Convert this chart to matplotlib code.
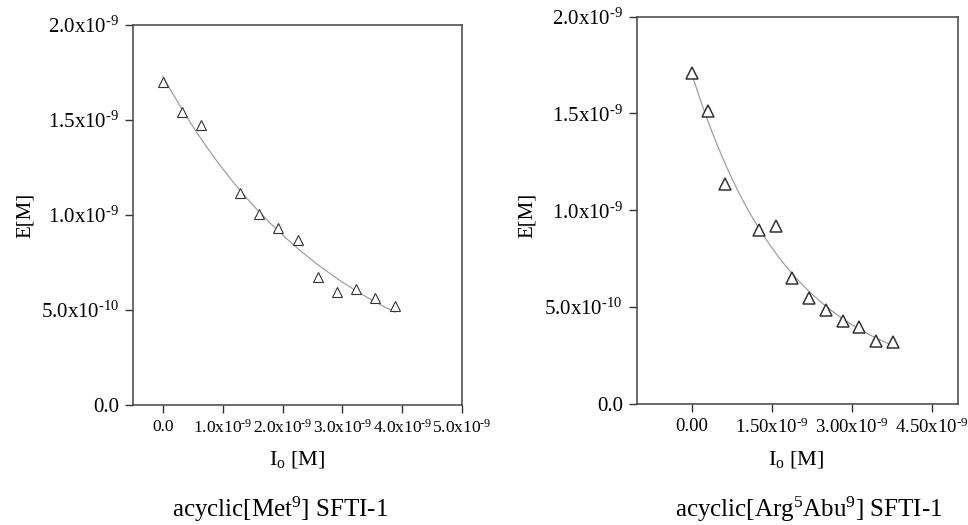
import numpy as np
import matplotlib
matplotlib.use("Agg")
import matplotlib.pyplot as plt

# DATA (concentrations in units of 1e-9 M) ####################################

met_io = [0.0, 0.32, 0.64, 1.29, 1.61, 1.93, 2.26, 2.59, 2.91, 3.23, 3.55, 3.88]
met_e = [1.70, 1.544, 1.474, 1.117, 1.005, 0.933, 0.867, 0.672, 0.593, 0.611, 0.565, 0.521]

abu_io = [0.0, 0.31, 0.625, 1.26, 1.575, 1.875, 2.20, 2.52, 2.83, 3.14, 3.45, 3.78]
abu_e = [1.708, 1.513, 1.138, 0.897, 0.919, 0.649, 0.549, 0.486, 0.429, 0.399, 0.325, 0.319]

y_ticks = [0.0, 0.5, 1.0, 1.5, 2.0]
y_labels = ["0.0", r"5.0x10$^{\text{-10}}$", r"1.0x10$^{\text{-9}}$",
            r"1.5x10$^{\text{-9}}$", r"2.0x10$^{\text{-9}}$"]

met_xticks = [0.0, 1.0, 2.0, 3.0, 4.0, 5.0]
met_xlabels = ["0.0", r"1.0x10$^{\text{-9}}$", r"2.0x10$^{\text{-9}}$",
               r"3.0x10$^{\text{-9}}$", r"4.0x10$^{\text{-9}}$", r"5.0x10$^{\text{-9}}$"]

abu_xticks = [0.0, 1.5, 3.0, 4.5]
abu_xlabels = ["0.00", r"1.50x10$^{\text{-9}}$", r"3.00x10$^{\text{-9}}$",
               r"4.50x10$^{\text{-9}}$"]

titles = [r"acyclic[Met$^{\mathrm{9}}$] SFTI-1",
          r"acyclic[Arg$^{\mathrm{5}}$Abu$^{\mathrm{9}}$] SFTI-1"]

# STYLE #######################################################################

plt.rcParams["font.family"] = "Liberation Serif"
plt.rcParams["mathtext.fontset"] = "custom"
plt.rcParams["mathtext.rm"] = "Liberation Serif"
plt.rcParams["mathtext.it"] = "Liberation Serif:italic"


def exp_fit(xd, yd):
    # y = c + a*exp(-k*x): scan k, solve a and c by least squares
    xd, yd = np.asarray(xd), np.asarray(yd)
    best = None
    for k in np.linspace(0.05, 2.0, 400):
        A = np.column_stack([np.exp(-k * xd), np.ones_like(xd)])
        sol, res, _, _ = np.linalg.lstsq(A, yd, rcond=None)
        err = np.sum((A @ sol - yd) ** 2)
        if best is None or err < best[0]:
            best = (err, k, sol)
    _, k, (a, c) = best
    return lambda t: c + a * np.exp(-k * t)


fig = plt.figure(figsize=(9.68, 5.25), dpi=100)

panels = [
    dict(rect=[0.1374, 0.2286, 0.340, 0.724], x=met_io, y=met_e, xlim=(-0.5, 5.0),
         xticks=met_xticks, xlabels=met_xlabels, xfs=12.5, ylab_x=0.026, title=titles[0],
         title_x=0.289, xlab_x=0.307, mew=0.8, ms=7),
    dict(rect=[0.6577, 0.2305, 0.3322, 0.738], x=abu_io, y=abu_e, xlim=(-1.03, 5.0),
         xticks=abu_xticks, xlabels=abu_xlabels, xfs=13.5, ylab_x=0.545, title=titles[1],
         title_x=0.835, xlab_x=0.823, mew=1.1, ms=8.5),
]

for p in panels:
    ax = fig.add_axes(p["rect"])
    x = np.array(p["x"]) * 1e-9
    y = np.array(p["y"]) * 1e-9

    # fitted decay curve through the points
    f = exp_fit(p["x"], p["y"])
    xs = np.linspace(min(p["x"]), max(p["x"]), 200)
    ax.plot(xs * 1e-9, f(xs) * 1e-9, color="#a0a0a0", lw=0.9, zorder=1)

    ax.plot(x, y, linestyle="none", marker="^", markersize=p["ms"], markerfacecolor="white",
            markeredgecolor="#333333", markeredgewidth=p["mew"], zorder=2)

    ax.set_xlim(p["xlim"][0] * 1e-9, p["xlim"][1] * 1e-9)
    ax.set_ylim(0, 2e-9)
    ax.set_yticks(np.array(y_ticks) * 1e-9)
    ax.set_yticklabels(y_labels, fontsize=15)
    ax.set_xticks(np.array(p["xticks"]) * 1e-9)
    ax.set_xticklabels(p["xlabels"], fontsize=p["xfs"])
    ax.tick_params(direction="out", length=6, width=1, color="#333333", pad=4)
    for s in ax.spines.values():
        s.set_color("#444444")
        s.set_linewidth(1.1)

    fig.text(p["ylab_x"], 0.59, "E[M]", rotation=90, fontsize=15, ha="center", va="center")
    fig.text(p["xlab_x"], 0.125, r"I$_{\mathrm{o}}$ [M]", fontsize=16, ha="center", va="center")
    fig.text(p["title_x"], 0.03, p["title"], fontsize=18, ha="center", va="center")

plt.savefig("out.png", dpi=100)
